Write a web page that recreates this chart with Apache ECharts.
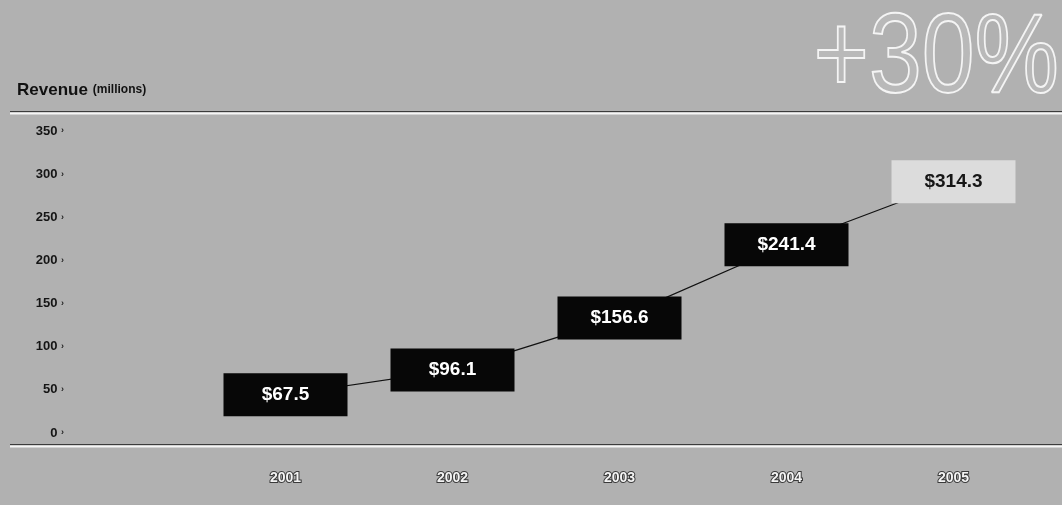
<!DOCTYPE html>
<html>
<head>
<meta charset="utf-8">
<script src="https://cdn.jsdelivr.net/npm/echarts@6/dist/echarts.min.js"></script>
<style>
  html, body { margin: 0; padding: 0; background: #b1b1b1; }
  #chart { width: 1062px; height: 505px; }
</style>
</head>
<body>
<div id="chart"></div>
<script>
// Annual revenue, millions of dollars
const years = ['2001', '2002', '2003', '2004', '2005'];
const revenue = [67.5, 96.1, 156.6, 241.4, 314.3];
const yTicks = [0, 50, 100, 150, 200, 250, 300, 350];
const growthText = '+30%';

const BG = '#b1b1b1';
const sans = "'Liberation Sans', Arial, sans-serif";

// Value boxes hang below their value; the connecting line runs through the box
// centres, so it uses a companion scale shifted by half a box height.
const plotHeightPx = 302;
const boxHalfPx = 20;
const yMax = yTicks[yTicks.length - 1];
const lineShift = boxHalfPx * yMax / plotHeightPx;

const chart = echarts.init(document.getElementById('chart'), null, { renderer: 'canvas' });

const lastIdx = revenue.length - 1;
const lineData = revenue.map((v, i) => i === lastIdx
  ? { value: v, label: { backgroundColor: '#dcdcdc', color: '#161616' } }
  : { value: v });

chart.setOption({
  backgroundColor: BG,
  animation: false,
  title: [
    {
      text: '{b|Revenue} {s|(millions)}',
      left: 12,
      top: 76,
      textStyle: {
        rich: {
          b: { fontFamily: sans, fontWeight: 'bold', fontSize: 17, color: '#111' },
          s: { fontFamily: sans, fontWeight: 'bold', fontSize: 12, color: '#111' }
        }
      }
    }
  ],
  grid: { left: 202, right: 25, top: 131, bottom: 72 },
  xAxis: {
    type: 'category',
    data: years,
    boundaryGap: true,
    axisLine: { show: false },
    axisTick: { show: false },
    axisLabel: {
      margin: 38,
      fontFamily: sans,
      fontWeight: 'bold',
      fontSize: 14,
      color: '#f4f4f4',
      textBorderColor: '#3a3a3a',
      textBorderWidth: 2
    },
    splitLine: { show: false }
  },
  yAxis: [
    {
      type: 'value',
      min: yTicks[0],
      max: yMax,
      interval: yTicks[1] - yTicks[0],
      axisLine: { show: false },
      axisTick: { show: false },
      splitLine: { show: false },
      axisLabel: {
        margin: 138,
        align: 'right',
        formatter: v => v + ' {t|›}',
        fontFamily: sans,
        fontWeight: 'bold',
        fontSize: 13,
        color: '#151515',
        rich: { t: { fontSize: 9, fontWeight: 'bold', color: '#222' } }
      }
    },
    {
      type: 'value',
      show: false,
      min: yTicks[0] + lineShift,
      max: yMax + lineShift
    }
  ],
  series: [
    {
      type: 'line',
      yAxisIndex: 1,
      data: lineData,
      symbol: 'rect',
      symbolSize: 1,
      itemStyle: { color: '#111' },
      lineStyle: { color: '#111', width: 1.2 },
      label: {
        show: true,
        position: 'inside',
        formatter: p => '$' + p.value.toFixed(1),
        width: 124,
        height: 43,
        lineHeight: 43,
        align: 'center',
        verticalAlign: 'middle',
        backgroundColor: '#070707',
        color: '#ffffff',
        fontFamily: sans,
        fontWeight: 'bold',
        fontSize: 19
      },
      z: 3
    }
  ],
  graphic: [
    // outlined growth figure, condensed horizontally
    {
      type: 'text',
      x: 1059,
      y: 61,
      scaleX: 0.84,
      silent: true,
      style: {
        text: growthText,
        align: 'right',
        verticalAlign: 'middle',
        fontFamily: sans,
        fontWeight: 'normal',
        fontSize: 113,
        fill: 'rgba(255,255,255,0.10)',
        stroke: '#f4f4f4',
        lineWidth: 2
      }
    },
    { type: 'line', shape: { x1: 10, y1: 111.5, x2: 1062, y2: 111.5 }, style: { stroke: '#3c3c3c', lineWidth: 1 }, silent: true },
    { type: 'line', shape: { x1: 10, y1: 113.5, x2: 1062, y2: 113.5 }, style: { stroke: '#f6f6f6', lineWidth: 2 }, silent: true },
    { type: 'line', shape: { x1: 10, y1: 444.5, x2: 1062, y2: 444.5 }, style: { stroke: '#3c3c3c', lineWidth: 1 }, silent: true },
    { type: 'line', shape: { x1: 10, y1: 446.5, x2: 1062, y2: 446.5 }, style: { stroke: '#f6f6f6', lineWidth: 2 }, silent: true }
  ]
});
</script>
</body>
</html>
